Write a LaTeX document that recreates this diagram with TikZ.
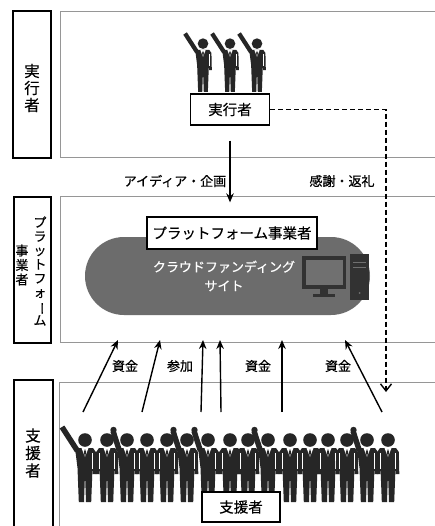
\documentclass[tikz,border=0pt]{standalone}
\usepackage{fontspec}
\setmainfont{Noto Sans CJK JP}[FakeBold=0.5]
\usetikzlibrary{arrows.meta}

\definecolor{panelline}{RGB}{150,150,150}
\definecolor{sitegray}{RGB}{108,108,108}
\definecolor{personcol}{RGB}{38,38,38}
\definecolor{pcdark}{RGB}{50,50,50}
\definecolor{pcscreen}{RGB}{112,112,112}

\tikzset{
  panel/.style={draw=panelline, line width=0.9pt},
  sidebox/.style={draw=black, line width=1.6pt, fill=white},
  tagbox/.style={draw=black, line width=1.3pt, fill=white, inner sep=0pt,
    font=\fontsize{14.5}{16}\selectfont},
  flow/.style={line width=1.4pt, -{Stealth[length=9pt,width=7.5pt]}},
  thanks/.style={line width=1.4pt, dash pattern=on 5pt off 3pt,
    -{Straight Barb[length=7pt,width=11pt]}},
  lbl/.style={font=\fontsize{13}{14}\selectfont, inner sep=1pt},
  vert/.style={align=center, inner sep=0pt},
  % standing figure, feet at the origin, head up (negative y)
  pics/person/.style={code={
    \fill[personcol] (0,-62) circle (6.8);
    \fill[personcol] (-10.8,-50) -- (-8,-54) -- (8,-54) -- (10.8,-50)
      -- (11.3,-28) -- (8,-28) -- (7.5,-34) -- (6.2,0) -- (1,0) -- (0,-28)
      -- (-1,0) -- (-6.2,0) -- (-7.5,-34) -- (-8,-28) -- (-11.3,-28) -- cycle;
    \draw[white, line width=0.5pt] (-7.6,-49) -- (-7.6,-33) (7.6,-49) -- (7.6,-33);
    \fill[white] (-3.5,-54) -- (3.5,-54) -- (0,-45) -- cycle;
    \fill[personcol] (0,-53) -- (1.1,-50) -- (0,-44) -- (-1.1,-50) -- cycle;
  }},
  % figure with the left arm stretched up
  pics/cheer/.style={code={
    \fill[personcol] (0,-62) circle (6.8);
    \fill[personcol] (-8,-54) -- (8,-54) -- (10.8,-50)
      -- (11.3,-28) -- (8,-28) -- (7.5,-34) -- (6.2,0) -- (1,0) -- (0,-28)
      -- (-1,0) -- (-6.2,0) -- (-7.5,-34) -- (-9.5,-50) -- cycle;
    \fill[personcol] (-5.2,-52.5) -- (-20.7,-76.5) -- (-25.3,-73.5) -- (-9.8,-49.5) -- cycle;
    \draw[white, line width=0.5pt] (7.6,-49) -- (7.6,-33);
    \fill[white] (-3.5,-54) -- (3.5,-54) -- (0,-45) -- cycle;
    \fill[personcol] (0,-53) -- (1.1,-50) -- (0,-44) -- (-1.1,-50) -- cycle;
  }},
  % figure with the left hand raised beside the head
  pics/hail/.style={code={
    \fill[personcol] (0,-62) circle (6.8);
    \fill[personcol] (-8,-54) -- (8,-54) -- (10.8,-50)
      -- (11.3,-28) -- (8,-28) -- (7.5,-34) -- (6.2,0) -- (1,0) -- (0,-28)
      -- (-1,0) -- (-6.2,0) -- (-7.5,-34) -- (-9.5,-50) -- cycle;
    \fill[personcol] (-4.9,-51.8) -- (-11.4,-71.8) -- (-16.6,-70.2) -- (-10.1,-50.2) -- cycle;
    \fill[personcol] (-13.5,-72) circle (3.2);
    \draw[white, line width=0.5pt] (7.6,-49) -- (7.6,-33);
    \fill[white] (-3.5,-54) -- (3.5,-54) -- (0,-45) -- cycle;
    \fill[personcol] (0,-53) -- (1.1,-50) -- (0,-44) -- (-1.1,-50) -- cycle;
  }},
}

\newcommand{\vbar}{\rotatebox[origin=c]{-90}{ー}}

\begin{document}
\begin{tikzpicture}[x=1pt,y=-1pt]
\useasboundingbox (0,0) rectangle (435,526);
\fill[white] (0,0) rectangle (435,526);

% ---- row panels ----
\draw[panel] (436,11) -- (60,11) -- (60,157) -- (436,157);
\draw[panel] (436,196) -- (60,196) -- (60,342) -- (436,342);
\draw[panel] (436,382) -- (59,382) -- (59,530);

% ---- row headings ----
\draw[sidebox] (13,11) rectangle (51,158);
\node[vert, font=\fontsize{15.5}{17}\selectfont] (h1) at (32,88) {実\\行\\者};
\draw[sidebox] (14,197) rectangle (51,343);
\node[vert, font=\fontsize{13}{14}\selectfont] (h2a) at (40,271)
  {プ\\ラ\\ッ\\ト\\フ\\ォ\\\vbar\\ム};
\node[vert, font=\fontsize{13}{14.5}\selectfont] (h2b) at (22,265) {事\\業\\者};
\draw[sidebox] (14,380) rectangle (53,530);
\node[vert, font=\fontsize{15.5}{17.5}\selectfont] (h3) at (33,453) {支\\援\\者};

% ---- project owners ----
\pic[scale=0.78] at (203,92) {cheer};
\pic[scale=0.78] at (230,92) {cheer};
\pic[scale=0.78] at (257,92) {cheer};
\node[tagbox, minimum width=79, minimum height=31] (exec) at (230,109.5) {実行者};

% ---- platform ----
\node[fill=sitegray, rounded corners=39pt, minimum width=285, minimum height=78,
      inner sep=0pt] (site) at (227.5,276) {};
\node[text=white, align=center, font=\fontsize{13}{19}\selectfont] (sitetext)
  at (224,276) {クラウドファンディング\\サイト};
% computer
\fill[pcdark] (302,256) rectangle (346,289);
\fill[pcscreen] (305.5,259.5) rectangle (342.5,285);
\fill[pcdark] (320,289) rectangle (328,294);
\fill[pcdark] (313,293.5) rectangle (335,297);
\fill[pcdark] (350,254) rectangle (369,300);
\draw[pcscreen, line width=1pt] (353,262) -- (366,262) (353,267) -- (366,267);
\fill[pcscreen] (359.5,293) circle (1);
\node[tagbox, minimum width=170, minimum height=32] (pf) at (232,233) {プラットフォーム事業者};

% ---- supporters ----
\foreach \x/\kind in {85/cheer,107/person,127/hail,147/person,167/person,
    187/hail,208/hail,230/person,248/person,268/hail,290/person,310/person,
    328/person,347/person,367/hail,388/person}
  \pic at (\x,502) {\kind};
\node[tagbox, minimum width=78, minimum height=30] (supp) at (241,507) {支援者};

% ---- flows ----
\draw[flow, shorten <=15pt, shorten >=14pt] (exec.south) -- (exec.south |- pf.north);
\node[lbl] (idea) at (175,181) {アイディア・企画};
\coordinate (rewardend) at (386,392);
\draw[thanks] (exec.east) -| (rewardend);
\node[lbl] (thx) at (342,181) {感謝・返礼};

\foreach \i/\sx/\tx in {1/83/118, 2/142/160, 3/201/203, 4/221/220, 5/282/282, 6/382/345} {
  \coordinate (s\i) at (\sx,412);
  \coordinate (t\i) at (\tx,340);
  \draw[flow] (s\i) -- (t\i);
}
\node[lbl] (fund1) at (125,366) {資金};
\node[lbl] (join) at (180,366) {参加};
\node[lbl] (fund2) at (258,366) {資金};
\node[lbl] (fund3) at (338,366) {資金};
\end{tikzpicture}
\end{document}
